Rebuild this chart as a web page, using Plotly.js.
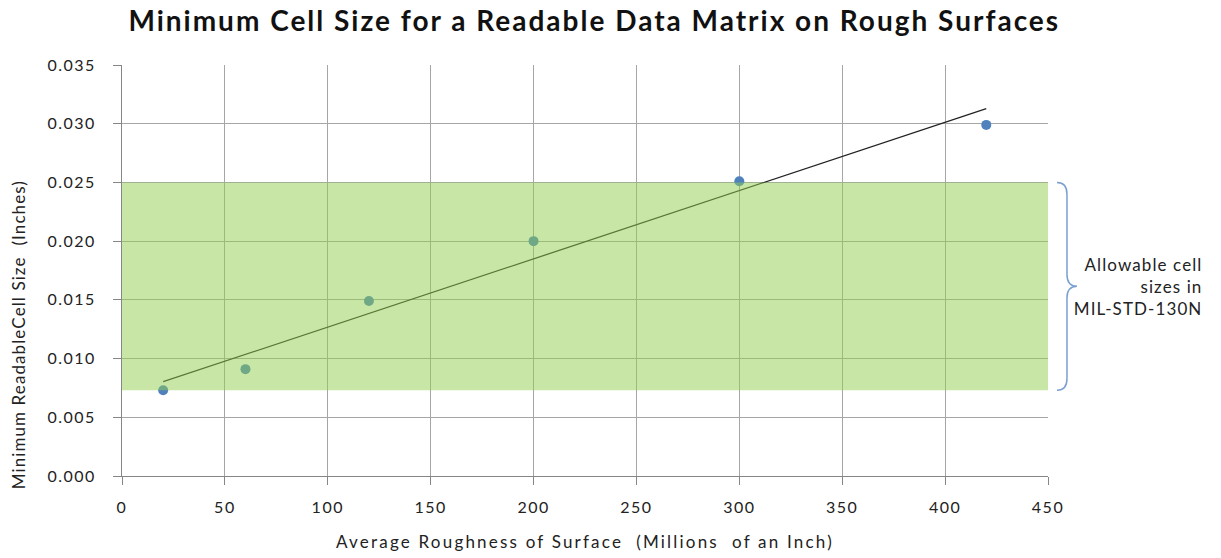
<!DOCTYPE html>
<html><head><meta charset="utf-8">
<script src="https://cdn.plot.ly/plotly-3.0.1.min.js"></script>
<style>
html,body{margin:0;padding:0;background:#fff}#c{width:1221px;height:558px}
#c .gtitle{letter-spacing:2px}
#c .xtick text,#c .ytick text{letter-spacing:1.5px}
#c .xtitle{letter-spacing:2.2px}
#c .annotation-text{letter-spacing:1.1px}
#c .annotation:first-of-type .annotation-text{letter-spacing:1.5px}
</style>
</head><body><div id="c"></div>
<script>
const roughness = [20, 60, 120, 200, 300, 420];
const cellSize = [0.0073, 0.0091, 0.0149, 0.0200, 0.0251, 0.0299];
const bandLow = 0.0073;
const bandHigh = 0.025;
const bandLabel = "Allowable cell<br>sizes in<br>MIL-STD-130N";
const xTicks = [0, 50, 100, 150, 200, 250, 300, 350, 400, 450];
const yTicks = [0, 0.005, 0.010, 0.015, 0.020, 0.025, 0.030, 0.035];
const titleText = 'Minimum Cell Size for a Readable Data Matrix on Rough Surfaces';
const xTitle = 'Average Roughness of Surface\u00a0 (Millions\u00a0 of an Inch)';
const yTitle = 'Minimum ReadableCell Size\u00a0 (Inches)';

// linear least-squares trendline
const n = roughness.length;
const mx = roughness.reduce((a,b)=>a+b,0)/n;
const my = cellSize.reduce((a,b)=>a+b,0)/n;
let sxy = 0, sxx = 0;
for (let i=0;i<n;i++){ sxy += (roughness[i]-mx)*(cellSize[i]-my); sxx += (roughness[i]-mx)**2; }
const slope = sxy/sxx, icpt = my - slope*mx;
const trendX = [roughness[0], roughness[n-1]];
const trendY = trendX.map(x => icpt + slope*x);

const font = "Lato, 'Open Sans', sans-serif";
const traces = [
  {x: trendX, y: trendY, mode: 'lines', line: {color: '#222', width: 1.3}, hoverinfo: 'skip'},
  {x: roughness, y: cellSize, mode: 'markers', marker: {color: '#4f81bd', size: 10}}
];
const yMid = (bandLow + bandHigh)/2;
const b0 = 1.0097, b1 = 1.0205, b2 = 1.0313;
const dy = 0.001;
const bracePath = `M ${b0} ${bandHigh} Q ${b1} ${bandHigh} ${b1} ${bandHigh-dy} L ${b1} ${yMid+dy} Q ${b1} ${yMid} ${b2} ${yMid} Q ${b1} ${yMid} ${b1} ${yMid-dy} L ${b1} ${bandLow+dy} Q ${b1} ${bandLow} ${b0} ${bandLow}`;
const layout = {
  width: 1221, height: 558,
  margin: {l: 122, r: 173, t: 65, b: 82},
  paper_bgcolor: '#fff', plot_bgcolor: '#fff',
  showlegend: false,
  font: {family: font, color: '#222', size: 16},
  title: {text: titleText,
          font: {family: font, size: 28, color: '#111', weight: 'bold'},
          x: 0.51, xref: 'paper', xanchor: 'center', y: 0.962, yref: 'container', yanchor: 'middle'},
  xaxis: {range: [0, 450], tickvals: xTicks, ticktext: xTicks.map(String),
          showgrid: true, gridcolor: '#a6a6a6', gridwidth: 1,
          showline: true, linecolor: '#868686', linewidth: 1,
          ticks: 'outside', ticklen: 8, tickcolor: '#868686', zeroline: false,
          ticklabelstandoff: 9,
          tickfont: {size: 16, color: '#222'},
          title: {text: xTitle, font: {size: 17, color: '#222'}, standoff: 20}},
  yaxis: {range: [0, 0.035], tickvals: yTicks, ticktext: yTicks.map(v => v.toFixed(3)),
          showgrid: true, gridcolor: '#a6a6a6', gridwidth: 1,
          showline: true, linecolor: '#868686', linewidth: 1,
          ticks: 'outside', ticklen: 8, tickcolor: '#868686', zeroline: false,
          ticklabelstandoff: 14,
          tickfont: {size: 16, color: '#222'}},
  shapes: [
    {type: 'rect', xref: 'x', yref: 'y', x0: 0, x1: 450, y0: bandLow, y1: bandHigh,
     fillcolor: 'rgba(146,208,80,0.5)', line: {width: 0}, layer: 'above'},
    {type: 'path', xref: 'paper', yref: 'y', path: bracePath, line: {color: '#7aa0d2', width: 1.5}, layer: 'above'}
  ],
  annotations: [
    {xref: 'paper', yref: 'paper', x: -0.1123, y: 0.343, xanchor: 'center', yanchor: 'middle',
     textangle: -90, text: yTitle, showarrow: false, font: {size: 17, color: '#222'}},
    {xref: 'paper', yref: 'y', x: 1.1685, y: yMid, xanchor: 'right', yanchor: 'middle', align: 'right',
     text: bandLabel, showarrow: false, font: {size: 17, color: '#222'}}
  ]
};
Plotly.newPlot('c', traces, layout, {displayModeBar: false, staticPlot: true});
</script></body></html>
